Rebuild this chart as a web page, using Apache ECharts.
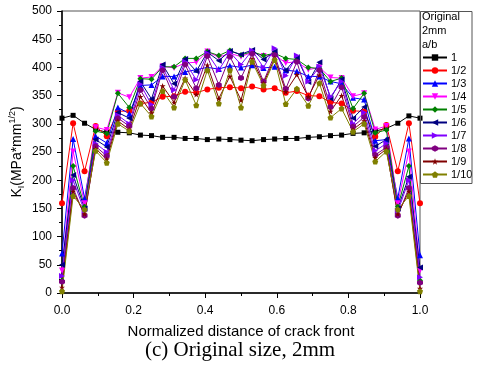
<!DOCTYPE html>
<html>
<head>
<meta charset="utf-8">
<script src="https://cdn.jsdelivr.net/npm/echarts@6/dist/echarts.min.js"></script>
<style>
  html, body { margin: 0; padding: 0; background: #fff; }
  #main { width: 480px; height: 369px; }
</style>
</head>
<body>
<div id="main"></div>
<script>
// normalized positions along the crack front
var pos = [0, 0.031, 0.063, 0.094, 0.125, 0.156, 0.188, 0.219, 0.25, 0.281, 0.313,
  0.344, 0.375, 0.406, 0.438, 0.469, 0.5, 0.531, 0.563, 0.594, 0.625, 0.656,
  0.688, 0.719, 0.75, 0.781, 0.813, 0.844, 0.875, 0.906, 0.938, 0.969, 1.0];

var ratios = ['1', '1/2', '1/3', '1/4', '1/5', '1/6', '1/7', '1/8', '1/9', '1/10'];

var k1 = [310,315,301,290,285,285,284,280,279,276,276,274,274,272,273,272,271,270,272,273,274,274,276,277,279,280,283,284,287,292,301,314,310];
var k2 = [159,301,216,296,278,322,323,336,338,348,349,357,355,361,364,365,363,366,361,363,355,358,350,349,338,336,323,322,277,298,216,301,159];
var k3 = [70,273,168,278,266,329,318,368,369,384,384,392,396,400,397,403,400,404,399,401,395,393,384,384,375,371,346,343,270,272,168,274,67];
var k4 = [40,251,159,294,289,355,347,381,383,402,399,408,409,428,418,425,419,427,420,422,408,410,396,400,382,381,349,354,290,296,159,251,40];
var k5 = [22,225,153,287,283,354,329,380,379,401,401,416,416,428,421,430,422,428,421,425,416,414,400,398,375,381,327,354,284,289,153,225,22];
var k6 = [50,209,150,272,259,320,310,375,344,405,371,415,393,427,412,429,423,431,414,428,395,418,374,409,345,379,310,330,260,272,150,206,45];
var k7 = [30,200,145,265,250,315,300,370,334,400,360,410,378,425,395,427,405,430,400,434,385,421,375,401,348,375,300,320,252,265,145,200,28];
var k8 = [20,186,137,260,243,310,296,360,327,395,348,405,363,420,369,419,381,424,375,422,362,410,345,395,330,365,295,312,245,258,137,186,18];
var k9 = [10,180,140,256,237,305,290,348,319,367,338,381,352,404,345,384,342,415,372,416,357,387,348,386,322,350,290,305,240,255,140,180,8];
var k10 = [3,172,148,252,231,300,287,336,313,358,329,378,333,395,336,395,329,410,368,413,335,362,332,372,311,327,286,300,233,251,148,172,3];

var values = [k1, k2, k3, k4, k5, k6, k7, k8, k9, k10];
var colors = ['#000000', '#ff0000', '#0000ff', '#ff00ff', '#008000', '#000080', '#8000ff', '#800080', '#800000', '#808000'];
var symbols = [
  'rect', 'circle', 'triangle', 'triangle', 'diamond', 'triangle', 'triangle',
  'path://M0,-10L8.7,-5L8.7,5L0,10L-8.7,5L-8.7,-5Z',
  'path://M0,-10L2.4,-3.1L9.5,-3.1L3.8,1.2L5.9,8.1L0,3.8L-5.9,8.1L-3.8,1.2L-9.5,-3.1L-2.4,-3.1Z',
  'path://M0,-10L9.5,-3.1L5.9,8.1L-5.9,8.1L-9.5,-3.1Z'
];
var rotates = [0, 0, 0, 180, 0, 90, -90, 0, 0, 0];

var series = values.map(function (arr, s) {
  return {
    name: ratios[s],
    type: 'line',
    data: arr.map(function (v, i) { return [pos[i], v]; }),
    symbol: symbols[s],
    symbolRotate: rotates[s],
    symbolSize: s === 0 ? 5 : 6,
    color: colors[s],
    lineStyle: { width: 1 },
    animation: false
  };
});

var chart = echarts.init(document.getElementById('main'));
chart.setOption({
  animation: false,
  textStyle: { fontFamily: 'Liberation Sans, Arial, sans-serif' },
  grid: {
    left: 62, right: 60, top: 11, bottom: 76,
    outerBoundsMode: 'none', containLabel: false,
    show: true, borderColor: '#555', borderWidth: 1
  },
  title: {
    text: 'Original\n2mm\na/b',
    left: 422, top: 10, padding: 0,
    textStyle: { fontSize: 11, fontWeight: 'normal', color: '#000', lineHeight: 14 }
  },
  legend: {
    orient: 'vertical',
    left: 422, top: 51, padding: 0,
    itemWidth: 24, itemHeight: 8, itemGap: 0,
    textStyle: { fontSize: 11, color: '#000', lineHeight: 13, padding: [0, 0, 0, -1] },
    data: ratios
  },
  graphic: [{
    type: 'rect',
    shape: { x: 420.5, y: 11.5, width: 51.5, height: 172 },
    style: { fill: 'none', stroke: '#555', lineWidth: 1 },
    z: 100
  }, {
    type: 'text',
    left: 'center', top: 340,
    style: {
      text: '(c) Original size, 2mm',
      font: '21px "Liberation Serif", "Times New Roman", serif',
      fill: '#000'
    }
  }],
  xAxis: {
    type: 'value', min: 0, max: 1, interval: 0.2,
    name: 'Normalized distance of crack front',
    nameLocation: 'middle', nameGap: 31,
    nameTextStyle: { fontSize: 15, color: '#000' },
    axisLine: { lineStyle: { color: '#000', width: 1.5 } },
    axisTick: { inside: false, length: 5, lineStyle: { color: '#000' } },
    minorTick: { show: true, splitNumber: 2, length: 3, lineStyle: { color: '#000' } },
    axisLabel: { fontSize: 12, color: '#000', margin: 12, formatter: function (v) { return v.toFixed(1); } },
    splitLine: { show: false }
  },
  yAxis: {
    type: 'value', min: 0, max: 500, interval: 50,
    name: '{k|K}{s|I}{k|(MPa*mm}{p|1/2}{k|)}',
    nameLocation: 'middle', nameGap: 36, nameRotate: 90,
    nameMoveOverlap: false,
    nameTextStyle: {
      rich: {
        k: { fontSize: 14, color: '#000', lineHeight: 18 },
        s: { fontSize: 9, color: '#000', verticalAlign: 'bottom', lineHeight: 18 },
        p: { fontSize: 9, color: '#000', verticalAlign: 'top', lineHeight: 18 }
      }
    },
    axisLine: { show: true, lineStyle: { color: '#000', width: 1.5 } },
    axisTick: { show: true, inside: false, length: 5, lineStyle: { color: '#000' } },
    minorTick: { show: true, splitNumber: 2, length: 3, lineStyle: { color: '#000' } },
    axisLabel: { fontSize: 12, color: '#000', margin: 10 },
    splitLine: { show: false }
  },
  series: series
});
</script>
</body>
</html>
